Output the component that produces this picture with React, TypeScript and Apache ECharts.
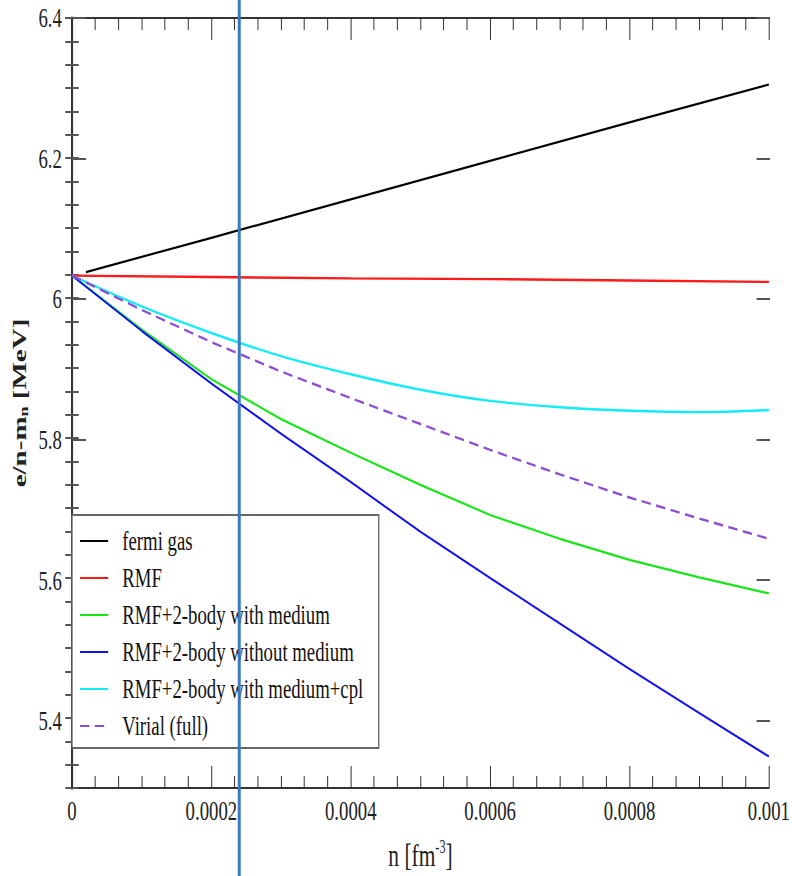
import React, { useEffect, useRef } from "react";
import * as echarts from "echarts";

// ---- data ----
const nFermi = [0.00002, 0.0002, 0.0004, 0.0006, 0.0008, 0.001];
const fermiGas = [6.037, 6.086, 6.141, 6.196, 6.251, 6.305];

const nCoarse = [0, 0.0002, 0.0004, 0.0006, 0.0008, 0.001];
const rmf = [6.032, 6.03, 6.028, 6.027, 6.025, 6.023];

const nFine = [0, 0.0001, 0.0002, 0.0003, 0.0004, 0.0005, 0.0006, 0.0007, 0.0008, 0.0009, 0.001];
const withMedium = [6.032, 5.955, 5.884, 5.827, 5.779, 5.733, 5.69, 5.656, 5.626, 5.601, 5.578];
const withoutMedium = [6.032, 5.953, 5.878, 5.806, 5.737, 5.666, 5.6, 5.535, 5.47, 5.407, 5.345];
const withMediumCpl = [6.032, 5.988, 5.95, 5.917, 5.891, 5.869, 5.853, 5.844, 5.839, 5.837, 5.84];
const virialFull = [6.032, 5.983, 5.937, 5.895, 5.857, 5.82, 5.783, 5.748, 5.715, 5.685, 5.656];

const seriesNames = [
  "fermi gas",
  "RMF",
  "RMF+2-body with medium",
  "RMF+2-body without medium",
  "RMF+2-body with medium+cpl",
  "Virial (full)",
];

const markerN = 0.00024;

const xMin = 0;
const xMax = 0.001;
const xStep = 0.0002;
const yMin = 5.3;
const yMax = 6.4;
const yLabelMin = 5.4;
const yStep = 0.2;

// ---- layout ----
const W = 1182;
const H = 876;
const S = 792 / W; // horizontal squeeze of the reference
const sx = (v: number) => v / S;
const FONT = "Liberation Serif, Times New Roman, serif";

const pairs = (xs: number[], ys: number[]) => xs.map((x, i) => [x, ys[i]]);

export default function App() {
  const ref = useRef<HTMLDivElement>(null);
  useEffect(() => {
    if (!ref.current) return;
    const chart = echarts.init(ref.current, undefined, { renderer: "svg", width: W, height: H });
    const gLeft = sx(72);
    const gRight = W - sx(770);
    const gTop = 18;
    const gHeight = 773;
    const axisColor = "#333";
    const xTick = { show: true, inside: true, length: 22, lineStyle: { color: axisColor, width: 1.5 } };
    const xMinor = { show: true, splitNumber: 6, length: 12, lineStyle: { color: axisColor, width: 1.5 } };
    const lineCommon = { type: "line", symbol: "none", showSymbol: false, xAxisIndex: 0, yAxisIndex: 0, animation: false };
    const colors = ["#000000", "#ff1a1a", "#14e614", "#1010f0", "#12ecf6", "#8c4fd4"];

    const option: any = {
      animation: false,
      backgroundColor: "#ffffff",
      textStyle: { fontFamily: FONT },
      grid: [
        { left: gLeft, right: gRight, top: gTop, height: gHeight },
        { left: gLeft, right: gRight, top: gTop, height: (gHeight * (yMax - yLabelMin)) / (yMax - yMin) },
      ],
      xAxis: [
        {
          type: "value",
          gridIndex: 0,
          position: "bottom",
          min: xMin,
          max: xMax,
          interval: xStep,
          axisLine: { show: true, lineStyle: { color: axisColor, width: 2 } },
          axisTick: xTick,
          minorTick: xMinor,
          splitLine: { show: false },
          axisLabel: {
            show: true,
            margin: 9,
            fontFamily: FONT,
            fontSize: 28,
            color: "#222",
            formatter: (v: number) => (v === 0 ? "0" : String(+v.toFixed(4))),
          },
          name: "n [fm{sup|-3}]",
          nameLocation: "middle",
          nameGap: 50,
          nameTextStyle: {
            fontFamily: FONT,
            fontSize: 32,
            color: "#222",
            rich: {
              sup: { fontFamily: FONT, fontSize: 18, color: "#222", padding: [0, 0, 16, 0] },
            },
          },
        },
        {
          type: "value",
          gridIndex: 0,
          position: "top",
          min: xMin,
          max: xMax,
          interval: xStep,
          axisLine: { show: true, lineStyle: { color: axisColor, width: 2 } },
          axisTick: xTick,
          minorTick: xMinor,
          splitLine: { show: false },
          axisLabel: { show: false },
        },
        { type: "value", gridIndex: 1, show: false, min: xMin, max: xMax },
      ],
      yAxis: [
        {
          type: "value",
          gridIndex: 0,
          position: "left",
          min: yMin,
          max: yMax,
          interval: yStep / 6,
          axisLine: { show: true, lineStyle: { color: axisColor, width: 3 } },
          axisTick: { show: true, inside: true, length: 10, lineStyle: { color: "#555", width: 2 } },
          splitLine: { show: false },
          axisLabel: { show: false },
          name: "e/n-m{sub|n} [MeV]",
          nameLocation: "middle",
          nameRotate: 90,
          nameGap: sx(42),
          nameTextStyle: {
            fontFamily: FONT,
            fontSize: 29,
            fontWeight: "bold",
            color: "#222",
            rich: {
              sub: { fontFamily: FONT, fontSize: 18, fontWeight: "bold", color: "#222", padding: [14, 0, 0, 0] },
            },
          },
        },
        {
          type: "value",
          gridIndex: 0,
          position: "right",
          min: yMin,
          max: yMax,
          interval: yStep / 6,
          axisLine: { show: true, lineStyle: { color: axisColor, width: 3 } },
          axisTick: { show: true, inside: true, length: 10, lineStyle: { color: "#555", width: 2 } },
          splitLine: { show: false },
          axisLabel: { show: false },
        },
        {
          type: "value",
          gridIndex: 1,
          position: "left",
          min: yLabelMin,
          max: yMax,
          interval: yStep,
          axisLine: { show: false },
          axisTick: { show: true, inside: true, length: 21, lineStyle: { color: "#555", width: 2 } },
          splitLine: { show: false },
          axisLabel: {
            show: true,
            margin: 15,
            fontFamily: FONT,
            fontSize: 28,
            color: "#222",
            formatter: (v: number) => String(Math.round(v * 10) / 10),
          },
        },
        {
          type: "value",
          gridIndex: 1,
          position: "right",
          min: yLabelMin,
          max: yMax,
          interval: yStep,
          axisLine: { show: false },
          axisTick: { show: true, inside: true, length: 20, lineStyle: { color: "#555", width: 2 } },
          splitLine: { show: false },
          axisLabel: { show: false },
        },
      ],
      legend: {
        orient: "vertical",
        left: gLeft,
        top: 515,
        padding: [12, 23, 8, 11],
        itemGap: 9,
        itemWidth: 42,
        itemHeight: 14,
        itemStyle: { opacity: 0 },
        backgroundColor: "#ffffff",
        borderColor: "#666",
        borderWidth: 2,
        borderRadius: 0,
        data: seriesNames,
        textStyle: { fontFamily: FONT, fontSize: 28, color: "#111", padding: [0, 0, 0, 16] },
        z: 10,
      },
      series: [
        { ...lineCommon, name: seriesNames[0], data: pairs(nFermi, fermiGas), lineStyle: { color: colors[0], width: 2.2 }, itemStyle: { color: colors[0] } },
        { ...lineCommon, name: seriesNames[1], data: pairs(nCoarse, rmf), lineStyle: { color: colors[1], width: 2.4 }, itemStyle: { color: colors[1] } },
        { ...lineCommon, name: seriesNames[2], data: pairs(nFine, withMedium), lineStyle: { color: colors[2], width: 2.2 }, itemStyle: { color: colors[2] } },
        { ...lineCommon, name: seriesNames[3], data: pairs(nFine, withoutMedium), lineStyle: { color: colors[3], width: 2.2 }, itemStyle: { color: colors[3] } },
        { ...lineCommon, name: seriesNames[4], data: pairs(nFine, withMediumCpl), smooth: 0.3, lineStyle: { color: colors[4], width: 2.4 }, itemStyle: { color: colors[4] } },
        { ...lineCommon, name: seriesNames[5], data: pairs(nFine, virialFull), lineStyle: { color: colors[5], width: 2.4, type: [14, 8] }, itemStyle: { color: colors[5] } },
      ],
    };
    chart.setOption(option);

    const xp = chart.convertToPixel({ xAxisIndex: 0 }, markerN) as number;
    chart.setOption({
      graphic: [
        {
          type: "line",
          z: 200,
          shape: { x1: xp, y1: 0, x2: xp, y2: H },
          style: { stroke: "#3b78c1", lineWidth: 3 / S },
        },
      ],
    });

    return () => chart.dispose();
  }, []);

  return (
    <div
      style={{
        position: "fixed",
        left: 0,
        top: 0,
        width: 792,
        height: H,
        overflow: "hidden",
        background: "#fff",
      }}
    >
      <div
        ref={ref}
        style={{ width: W, height: H, transform: `scaleX(${S})`, transformOrigin: "0 0" }}
      />
    </div>
  );
}
